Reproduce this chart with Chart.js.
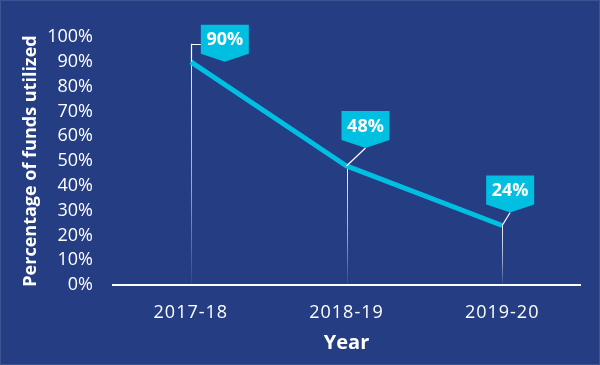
<!DOCTYPE html>
<html><head><meta charset="utf-8">
<script src="https://cdn.jsdelivr.net/npm/chart.js@4"></script>
<style>html,body{margin:0;padding:0;background:#243d83;overflow:hidden}#wrap{width:600px;height:365px}</style>
</head><body><div id="wrap"><canvas id="c" width="600" height="365"></canvas></div>
<script>
// ---- data ----
const categories = ['2017-18', '2018-19', '2019-20'];
const utilized = [90, 48, 24];
const yMin = 0, yMax = 100, yStep = 10;
const xTitle = 'Year';
const yTitle = 'Percentage of funds utilized';

// ---- styles ----
const BG = '#243d83';
const CYAN = '#00bfe0';
const FONT = "'Open Sans', sans-serif";
// callout placement relative to each point (style only)
const calloutStyle = [
  {dx: 34, tipDy: 0, elbowDy: -18},
  {dx: 19, tipDy: -18},
  {dx: 8, tipDy: -13}
];
const BOX_W = 48, BOX_H = 29, TIP_H = 8;

const calloutPlugin = {
  id: 'callouts',
  afterLayout(chart) {
    const xs = chart.scales.x;
    if (!xs._lsPatched) {
      const orig = xs.drawLabels;
      xs.drawLabels = function (a) { const c = this.ctx; c.save(); c.letterSpacing = '1px'; orig.call(this, a); c.restore(); };
      xs._lsPatched = true;
    }
  },
  beforeDatasetsDraw(chart) {
    const ctx = chart.ctx, xs = chart.scales.x, ys = chart.scales.y;
    const bottom = chart.chartArea.bottom;
    utilized.forEach((v, i) => {
      const px = Math.round(xs.getPixelForValue(i)) + 0.5;
      const py = ys.getPixelForValue(v);
      const st = calloutStyle[i];
      const top = st.elbowDy !== undefined ? py + st.elbowDy : py;
      const g = ctx.createLinearGradient(0, top, 0, bottom);
      g.addColorStop(0, 'rgba(255,255,255,0.95)');
      g.addColorStop(0.6, 'rgba(255,255,255,0.55)');
      g.addColorStop(1, 'rgba(255,255,255,0.05)');
      ctx.save();
      ctx.strokeStyle = g; ctx.lineWidth = 1;
      ctx.beginPath(); ctx.moveTo(px, top); ctx.lineTo(px, bottom - 1); ctx.stroke();
      ctx.restore();
    });
  },
  afterDatasetsDraw(chart) {
    const ctx = chart.ctx, xs = chart.scales.x, ys = chart.scales.y;
    utilized.forEach((v, i) => {
      const px = xs.getPixelForValue(i);
      const py = ys.getPixelForValue(v);
      const st = calloutStyle[i];
      const cx = px + st.dx;
      const tipY = py + st.tipDy;
      const rb = tipY - TIP_H, rt = rb - BOX_H;
      const l = cx - BOX_W / 2, r = cx + BOX_W / 2;
      // leader
      ctx.save();
      ctx.strokeStyle = '#ffffff'; ctx.lineWidth = 1.2;
      ctx.beginPath();
      if (st.elbowDy !== undefined) {
        const ex = Math.round(px) + 0.5, ey = Math.round(py + st.elbowDy) + 0.5;
        ctx.moveTo(ex, py); ctx.lineTo(ex, ey); ctx.lineTo(l, ey);
      } else {
        ctx.moveTo(px, py); ctx.lineTo(cx, tipY);
      }
      ctx.stroke();
      // box
      ctx.fillStyle = CYAN;
      ctx.beginPath();
      ctx.moveTo(l, rt); ctx.lineTo(r, rt); ctx.lineTo(r, rb);
      ctx.lineTo(cx, tipY); ctx.lineTo(l, rb); ctx.closePath();
      ctx.fill();
      ctx.fillStyle = '#ffffff';
      ctx.font = "bold 18px " + FONT;
      ctx.textAlign = 'center'; ctx.textBaseline = 'middle';
      ctx.fillText(v + '%', cx, (rt + rb) / 2 + 1);
      ctx.restore();
    });
  },
  afterDraw(chart) {
    const ctx = chart.ctx;
    ctx.save();
    ctx.strokeStyle = 'rgba(255,255,255,0.12)'; ctx.lineWidth = 1;
    ctx.strokeRect(0.5, 0.5, chart.width - 1, chart.height - 1);
    ctx.restore();
  }
};

new Chart(document.getElementById('c'), {
  type: 'line',
  data: {
    labels: categories,
    datasets: [{
      data: utilized, borderColor: CYAN, borderWidth: 5, pointRadius: 0,
      tension: 0, fill: false, borderCapStyle: 'butt', borderJoinStyle: 'round'
    }]
  },
  options: {
    responsive: false, animation: false,
    layout: {padding: {top: 37, right: 20, left: 0, bottom: 0}},
    plugins: {legend: {display: false}, tooltip: {enabled: false}},
    scales: {
      x: {
        offset: true,
        grid: {display: false, drawTicks: false},
        border: {display: true, color: '#ffffff', width: 2},
        ticks: {color: '#ffffff', font: {family: FONT, size: 18}, padding: 17, maxRotation: 0},
        title: {display: true, text: xTitle, color: '#ffffff', font: {family: FONT, size: 20, weight: 'bold'}, padding: {top: 4, bottom: 10}},
        afterFit(s) { s.height = 80; }
      },
      y: {
        min: yMin, max: yMax,
        grid: {display: false, drawTicks: false},
        border: {display: false},
        ticks: {stepSize: yStep, callback: v => v + '%', color: '#ffffff', font: {family: FONT, size: 18}, padding: 20},
        title: {display: true, text: yTitle, color: '#ffffff', font: {family: FONT, size: 18, weight: 'bold'}, padding: {top: 20, bottom: 0}},
        afterFit(s) { s.width = 113; }
      }
    }
  },
  plugins: [calloutPlugin]
});
</script></body></html>
